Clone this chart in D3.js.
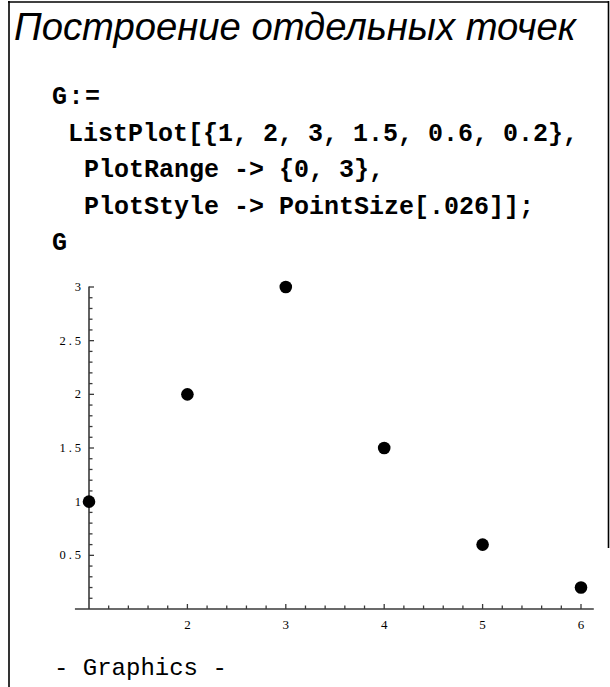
<!DOCTYPE html>
<html><head><meta charset="utf-8">
<script src="https://cdn.jsdelivr.net/npm/d3@7"></script>
<style>html,body{margin:0;padding:0;background:#fff;}svg{display:block;}</style>
</head><body>
<svg id="c" width="610" height="687"></svg>
<script>
const titleText = "Построение отдельных точек";
const codeLines = ["G:=", "ListPlot[{1, 2, 3, 1.5, 0.6, 0.2},", "PlotRange -> {0, 3},", "PlotStyle -> PointSize[.026]];", "G"];
const codeIndent = [0, 1, 2, 2, 0];
const outputText = "- Graphics -";
const xValues = [1, 2, 3, 4, 5, 6];
const yValues = [1, 2, 3, 1.5, 0.6, 0.2];
const xTickLabels = [2, 3, 4, 5, 6];
const yTickLabels = [0.5, 1, 1.5, 2, 2.5, 3];

const svg = d3.select("#c");

// frame
svg.append("line").attr("x1", 9).attr("x2", 9).attr("y1", 1).attr("y2", 687).attr("stroke", "#000").attr("stroke-width", 1.6);
svg.append("line").attr("x1", 8).attr("x2", 609).attr("y1", 2).attr("y2", 2).attr("stroke", "#000").attr("stroke-width", 1.6);
svg.append("line").attr("x1", 608.5).attr("x2", 608.5).attr("y1", 1).attr("y2", 548).attr("stroke", "#000").attr("stroke-width", 1.6);

// title
const title = svg.append("text").attr("x", 14).attr("y", 40)
  .attr("font-family", "Liberation Sans, Arial, sans-serif").attr("font-style", "italic")
  .attr("font-size", 36).attr("fill", "#000").text(titleText);
const tw = title.node().getComputedTextLength();
title.attr("font-size", 36 * 562 / tw);

// code
const baselines = [104, 141, 177, 214, 250];
codeLines.forEach((s, i) => {
  svg.append("text").attr("x", 52 + codeIndent[i] * 16).attr("y", baselines[i])
    .attr("font-family", "Liberation Mono, Courier New, monospace").attr("font-weight", "bold")
    .attr("font-size", 25).attr("letter-spacing", i === 0 ? 1.5 : 0).attr("fill", "#000").text(s);
});

svg.append("text").attr("x", 54).attr("y", 675)
  .attr("font-family", "Liberation Mono, Courier New, monospace")
  .attr("font-size", 24).attr("fill", "#000").text(outputText);

// scales
const x = d3.scaleLinear().domain([1, 6]).range([89, 581]);
const y = d3.scaleLinear().domain([0, 3]).range([609, 287]);
const axisColor = "#3a3a3a";
const labelFont = "Liberation Serif, Times New Roman, serif";

// x axis
svg.append("line").attr("x1", x(0.857)).attr("x2", x(6.13)).attr("y1", y(0)).attr("y2", y(0))
  .attr("stroke", axisColor).attr("stroke-width", 1.6);
const xTicks = d3.range(6, 30 + 1).map(k => k / 5);
svg.append("g").selectAll("line").data(xTicks).join("line")
  .attr("x1", d => x(d)).attr("x2", d => x(d))
  .attr("y1", y(0)).attr("y2", d => y(0) - (Math.abs(d - Math.round(d)) < 1e-9 ? 5 : 3.5))
  .attr("stroke", axisColor).attr("stroke-width", 1.3);
svg.append("g").selectAll("text").data(xTickLabels).join("text")
  .attr("x", d => x(d)).attr("y", 629).attr("text-anchor", "middle")
  .attr("font-family", labelFont).attr("font-size", 13).attr("fill", "#000").text(d => d);

// y axis
svg.append("line").attr("x1", x(1)).attr("x2", x(1)).attr("y1", y(3) - 0.5).attr("y2", y(0))
  .attr("stroke", axisColor).attr("stroke-width", 1.6);
const yTicks = d3.range(1, 30 + 1).map(k => k / 10);
svg.append("g").selectAll("line").data(yTicks).join("line")
  .attr("x1", x(1)).attr("x2", d => x(1) + (Math.abs(d * 2 - Math.round(d * 2)) < 1e-9 ? 5 : 3.5))
  .attr("y1", d => y(d)).attr("y2", d => y(d))
  .attr("stroke", axisColor).attr("stroke-width", 1.3);
svg.append("g").selectAll("text").data(yTickLabels).join("text")
  .attr("x", 84).attr("y", d => y(d) + 4).attr("text-anchor", "end")
  .attr("font-family", labelFont).attr("font-size", 12.5).attr("letter-spacing", 3)
  .attr("fill", "#000").text(d => String(d));

// points
svg.append("g").selectAll("circle").data(xValues.map((v, i) => [v, yValues[i]])).join("circle")
  .attr("cx", d => x(d[0])).attr("cy", d => y(d[1])).attr("r", 6.3).attr("fill", "#000");
</script>
</body></html>
